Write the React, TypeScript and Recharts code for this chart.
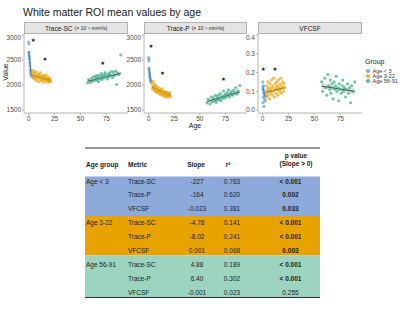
import React from 'react';
import { ComposedChart, Scatter, Line, Area, XAxis, YAxis } from 'recharts';

const FONT = '"Liberation Sans", Arial, sans-serif';
const C_YOUNG = '#5599d6';
const C_MID = '#e69f00';
const C_OLD = '#2aa87f';

// subject ages per group
const ageYoung = [0.1, 0.2, 0.3, 0.4, 0.6, 0.8, 1.0, 1.2, 1.5, 1.8, 2.1, 2.5];
const ageMid = [3.2, 3.8, 4.1, 4.6, 5.0, 5.3, 5.9, 6.2, 6.8, 7.1, 7.5, 8.0, 8.4, 8.9, 9.3, 9.8, 10.2, 10.7, 11.1, 11.6,
  12.0, 12.5, 13.0, 13.4, 13.9, 14.3, 14.8, 15.2, 15.7, 16.1, 16.6, 17.0, 17.5, 18.0, 18.4, 18.9, 19.5, 20.1, 20.7, 21.4];
const ageOld = [57, 58, 60, 61, 62, 63, 64, 65, 65.5, 66, 67, 67.5, 68, 69, 70, 70.5, 71, 72, 73, 73.5,
  74, 75, 76, 77, 77.5, 78, 79, 80, 81, 82, 83, 84, 85, 86, 87, 89];

// Trace-SC
const scYoung = [2860, 2820, 2650, 2600, 2560, 2520, 2450, 2380, 2300, 2260, 2220, 2180];
const scMid = [2250, 2165, 2295, 2140, 2210, 2250, 2115, 2185, 2270, 2160, 2085, 2225, 2170, 2130, 2210, 2065, 2195, 2150, 2250, 2105,
  2165, 2080, 2200, 2140, 2105, 2175, 2050, 2150, 2115, 2205, 2090, 2140, 2095, 2175, 2055, 2120, 2065, 2145, 2100, 2065];
const scOld = [2040, 2110, 2050, 2140, 2080, 2170, 2095, 2150, 2190, 2100, 2160, 2065, 2200, 2120, 2175, 2230, 2110, 2185, 2140, 2210,
  2250, 2180, 2120, 2215, 2160, 2240, 2200, 2270, 2150, 2255, 2190, 2280, 2010, 2240, 2205, 2600];

// Trace-P
const pYoung = [2550, 2520, 2480, 2340, 2300, 2250, 2200, 2160, 2120, 2100, 2080, 2060];
const pMid = [2040, 1930, 1985, 2070, 1900, 1955, 2010, 1880, 1950, 1990, 1870, 1925, 1850, 1905, 1960, 1875, 1835, 1910, 1865, 1800,
  1895, 1845, 1930, 1815, 1860, 1790, 1875, 1825, 1760, 1850, 1805, 1865, 1780, 1840, 1795, 1755, 1830, 1785, 1850, 1770];
const pOld = [1640, 1720, 1620, 1760, 1660, 1745, 1680, 1790, 1700, 1650, 1770, 1705, 1800, 1715, 1830, 1690, 1770, 1735, 1880, 1790,
  1740, 1820, 1760, 1850, 1800, 1905, 1760, 1840, 1870, 1795, 1900, 1850, 1950, 1820, 1880, 1990];

// VFCSF
const vfYoung = [0.15, 0.12, 0.04, 0.11, 0.07, 0.13, 0.09, 0.02, 0.10, 0.06, 0.08, 0.05];
const vfMid = [0.09, 0.13, 0.07, 0.11, 0.15, 0.08, 0.12, 0.10, 0.06, 0.14, 0.11, 0.09, 0.16, 0.12, 0.08, 0.13, 0.10, 0.17, 0.11, 0.07,
  0.14, 0.12, 0.09, 0.15, 0.11, 0.13, 0.08, 0.16, 0.12, 0.10, 0.14, 0.11, 0.17, 0.09, 0.13, 0.12, 0.15, 0.10, 0.14, 0.12];
const vfOld = [0.15, 0.10, 0.17, 0.12, 0.08, 0.19, 0.13, 0.11, 0.16, 0.09, 0.14, 0.12, 0.06, 0.15, 0.11, 0.13, 0.18, 0.10, 0.12, 0.05,
  0.14, 0.11, 0.09, 0.13, 0.16, 0.10, 0.12, 0.07, 0.11, 0.14, 0.09, 0.12, 0.04, 0.13, 0.10, 0.15];

// linear fits: [age, fit, lower, upper]
const scFitYoung = [[0.1, 2680, 2560, 2800], [1.3, 2440, 2380, 2500], [2.5, 2200, 2090, 2310]];
const scFitMid = [[3.2, 2190, 2160, 2220], [12, 2145, 2130, 2160], [21.4, 2095, 2065, 2125]];
const scFitOld = [[57, 2075, 2035, 2115], [72, 2150, 2132, 2168], [89, 2235, 2190, 2280]];
const pFitYoung = [[0.1, 2340, 2220, 2460], [1.3, 2190, 2130, 2250], [2.5, 2040, 1930, 2150]];
const pFitMid = [[3.2, 1960, 1925, 1995], [12, 1880, 1862, 1898], [21.4, 1800, 1765, 1835]];
const pFitOld = [[57, 1670, 1625, 1715], [72, 1760, 1738, 1782], [89, 1860, 1810, 1910]];
const vfFitYoung = [[0.1, 0.12, 0.08, 0.16], [1.3, 0.095, 0.075, 0.115], [2.5, 0.07, 0.03, 0.11]];
const vfFitMid = [[3.2, 0.095, 0.085, 0.105], [12, 0.107, 0.101, 0.113], [21.4, 0.12, 0.11, 0.13]];
const vfFitOld = [[57, 0.128, 0.112, 0.144], [72, 0.115, 0.108, 0.122], [89, 0.10, 0.083, 0.117]];

// significance stars
const scStars = [[4.4, 2900], [15.7, 2514], [71.5, 2434]];
const pStars = [[2.2, 2786], [13.5, 2246], [73, 2126]];
const vfStars = [[0.6, 0.217], [11.9, 0.217]];

const xTicks = [0, 25, 50, 75];
const traceTicks = [1500, 2000, 2500, 3000];
const vfTicks = [0, 0.1, 0.2, 0.3, 0.4];

// table
const tableHeaders = ['Age group', 'Metric', 'Slope', 'r²'];
const groupNames = ['Age < 3', 'Age 3-22', 'Age 56-91'];
const metricNames = ['Trace-SC', 'Trace-P', 'VFCSF'];
const slopes = ['-227', '-164', '-0.023', '-4.78', '-8.02', '0.001', '4.88', '6.40', '-0.001'];
const rSquared = ['0.763', '0.620', '0.381', '0.141', '0.241', '0.068', '0.189', '0.302', '0.023'];
const pValues = ['< 0.001', '0.002', '0.033', '< 0.001', '< 0.001', '0.003', '< 0.001', '< 0.001', '0.255'];
const bandColors = ['#8eaadb', '#e8a202', '#9dd4c0'];

const pts = (ages: number[], vals: number[]) => ages.map((x, i) => ({ x, y: vals[i] }));
const fit = (rows: number[][]) => rows.map(([x, y, lo, hi]) => ({ x, y, r: [lo, hi] }));

const dot = (color: string) => (p: any) =>
  <circle cx={p.cx} cy={p.cy} r={1.6} fill={color} fillOpacity={0.65} />;
const star = (p: any) =>
  <text x={p.cx} y={p.cy} textAnchor="middle" dominantBaseline="central" fontSize={5.5} fontFamily="DejaVu Sans" fill="#111">★</text>;

function Panel({ left, yW, width, title, sub, domain, ticks, fmt, young, mid, old, fits, stars }: any) {
  const tick = { fontSize: 6.5, fill: '#4d4d4d', fontFamily: FONT };
  return (
    <>
      <div style={{
        position: 'absolute', left: left + yW, top: 22, width: width - yW, height: 12, boxSizing: 'border-box',
        background: '#e4e4e4', border: '1px solid #b3b3b3', fontFamily: FONT, fontSize: 6.5, color: '#1a1a1a',
        display: 'flex', alignItems: 'center', justifyContent: 'center', whiteSpace: 'nowrap',
      }}>
        {title}{sub && <span style={{ fontSize: 5, marginLeft: 2 }}>{sub}</span>}
      </div>
      <div style={{ position: 'absolute', left, top: 34 }}>
        <ComposedChart width={width} height={95} margin={{ top: 0, right: 0, bottom: 0, left: 0 }}>
          <XAxis type="number" dataKey="x" domain={[-4.5, 96]} ticks={xTicks} allowDataOverflow
            tick={tick} tickSize={2} tickMargin={1} stroke="#b3b3b3" height={16} />
          <YAxis type="number" dataKey="y" domain={domain} ticks={ticks} allowDataOverflow tickFormatter={fmt}
            tick={tick} tickSize={2} tickMargin={1} stroke="#b3b3b3" width={yW} />
          <Scatter data={young} fill={C_YOUNG} shape={dot(C_YOUNG)} isAnimationActive={false} />
          <Scatter data={mid} fill={C_MID} shape={dot(C_MID)} isAnimationActive={false} />
          <Scatter data={old} fill={C_OLD} shape={dot(C_OLD)} isAnimationActive={false} />
          {fits.map((f: any, i: number) => (
            <Area key={'a' + i} data={f} dataKey="r" type="linear" stroke="none" fill="#a0a0a0" fillOpacity={0.35}
              isAnimationActive={false} />
          ))}
          {fits.map((f: any, i: number) => (
            <Line key={'l' + i} data={f} dataKey="y" type="linear" stroke={i === 0 ? '#1f4a87' : '#1a1a1a'}
              strokeWidth={i === 0 ? 1.1 : 0.8} dot={false} isAnimationActive={false} />
          ))}
          <Scatter data={stars} shape={star} isAnimationActive={false} />
        </ComposedChart>
      </div>
    </>
  );
}

function Table() {
  const colX = [86, 128];
  const rowY = [181, 194.5, 208, 222, 236, 250, 264, 278, 292];
  const bands = [[176.5, 216], [216, 255.5], [255.5, 297.5]];
  return (
    <svg width={400} height={311} style={{ position: 'absolute', left: 0, top: 0 }} fontFamily={FONT} fontSize={6.5}>
      {bands.map(([a, b], i) => <rect key={i} x={85} y={a} width={235} height={b - a} fill={bandColors[i]} />)}
      <line x1={85} x2={320} y1={148} y2={148} stroke="#333" strokeWidth={1} />
      <line x1={85} x2={320} y1={297.5} y2={297.5} stroke="#333" strokeWidth={1} />
      <g fontWeight="bold" fill="#1a1a1a" dominantBaseline="central">
        <text x={colX[0]} y={164}>{tableHeaders[0]}</text>
        <text x={colX[1]} y={164}>{tableHeaders[1]}</text>
        <text x={196} y={164} textAnchor="middle">{tableHeaders[2]}</text>
        <text x={228} y={164} textAnchor="middle">{tableHeaders[3]}</text>
        <text x={296} y={155} textAnchor="middle">p value</text>
        <text x={296} y={163.5} textAnchor="middle">(Slope &gt; 0)</text>
      </g>
      <g fill="#222" dominantBaseline="central">
        {rowY.map((y, i) => (
          <g key={i}>
            {i % 3 === 0 && <text x={colX[0]} y={y}>{groupNames[i / 3]}</text>}
            <text x={colX[1]} y={y}>{metricNames[i % 3]}</text>
            <text x={197} y={y} textAnchor="middle">{slopes[i]}</text>
            <text x={232} y={y} textAnchor="middle">{rSquared[i]}</text>
            <text x={290.5} y={y} textAnchor="middle" fontWeight={pValues[i] === '0.255' ? 'normal' : 'bold'}>{pValues[i]}</text>
          </g>
        ))}
      </g>
    </svg>
  );
}

export default function App() {
  const legend = [['Age < 3', C_YOUNG], ['Age 3-22', C_MID], ['Age 56-91', C_OLD]];
  return (
    <div style={{ position: 'absolute', left: 0, top: 0, width: 400, height: 311, background: '#fff', fontFamily: FONT, overflow: 'hidden' }}>
      <div style={{ position: 'absolute', left: 23, top: 6, fontSize: 10.5, color: '#1a1a1a', whiteSpace: 'nowrap' }}>
        White matter ROI mean values by age
      </div>
      <div style={{ position: 'absolute', left: 5, top: 72, fontSize: 7, color: '#1a1a1a', transform: 'translate(-50%, -50%) rotate(-90deg)' }}>
        Value
      </div>
      <div style={{ position: 'absolute', left: 195, top: 125, fontSize: 7, color: '#1a1a1a', transform: 'translate(-50%, -50%)' }}>
        Age
      </div>
      <Panel left={0} yW={24} width={128} title="Trace-SC" sub="(× 10⁻⁶ mm²/s)" domain={[1440, 3020]} ticks={traceTicks}
        young={pts(ageYoung, scYoung)} mid={pts(ageMid, scMid)} old={pts(ageOld, scOld)}
        fits={[fit(scFitYoung), fit(scFitMid), fit(scFitOld)]} stars={scStars.map(([x, y]) => ({ x, y }))} />
      <Panel left={125} yW={19} width={122} title="Trace-P" sub="(× 10⁻⁶ mm²/s)" domain={[1440, 3020]} ticks={traceTicks}
        young={pts(ageYoung, pYoung)} mid={pts(ageMid, pMid)} old={pts(ageOld, pOld)}
        fits={[fit(pFitYoung), fit(pFitMid), fit(pFitOld)]} stars={pStars.map(([x, y]) => ({ x, y }))} />
      <Panel left={244} yW={14} width={118} title="VFCSF" domain={[-0.015, 0.405]} ticks={vfTicks} fmt={(v: number) => v.toFixed(1)}
        young={pts(ageYoung, vfYoung)} mid={pts(ageMid, vfMid)} old={pts(ageOld, vfOld)}
        fits={[fit(vfFitYoung), fit(vfFitMid), fit(vfFitOld)]} stars={vfStars.map(([x, y]) => ({ x, y }))} />
      <div style={{ position: 'absolute', left: 365, top: 58, fontSize: 7, color: '#1a1a1a' }}>Group</div>
      {legend.map(([name, color], i) => (
        <div key={name} style={{ position: 'absolute', left: 365, top: 68 + i * 5, height: 6, display: 'flex', alignItems: 'center', fontSize: 5.5, color: '#333', whiteSpace: 'nowrap' }}>
          <span style={{ display: 'inline-block', width: 3.5, height: 3.5, borderRadius: '50%', background: color, opacity: 0.75, marginRight: 3, marginLeft: 1 }} />
          {name}
        </div>
      ))}
      <Table />
    </div>
  );
}
